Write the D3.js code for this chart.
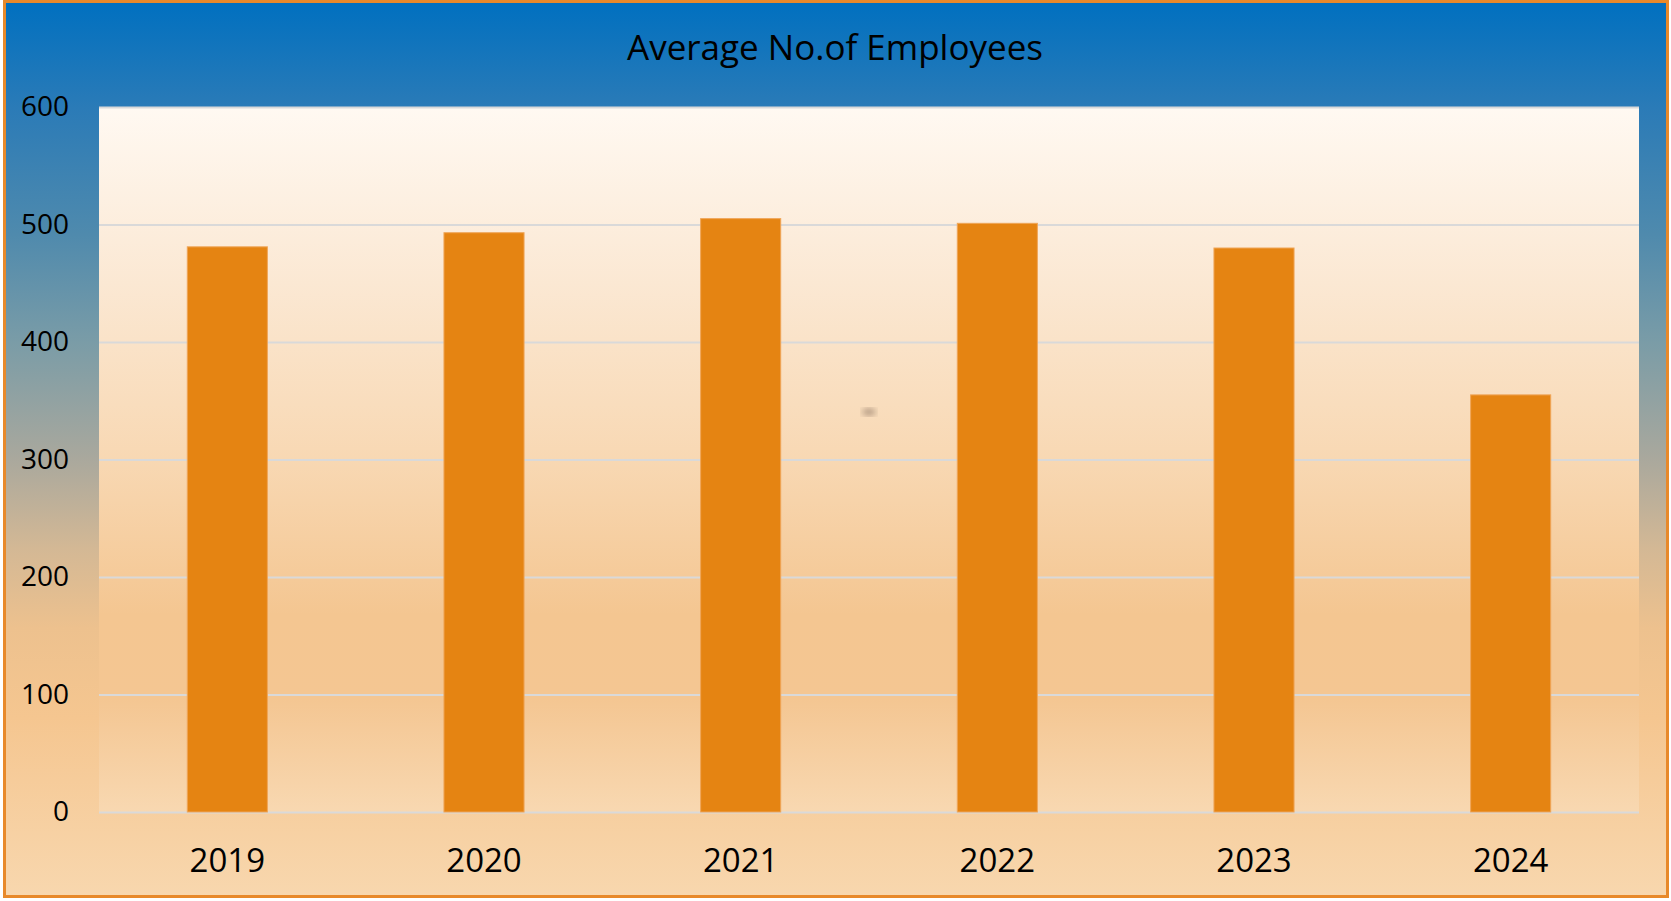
<!DOCTYPE html>
<html>
<head>
<meta charset="utf-8">
<script src="https://cdn.jsdelivr.net/npm/d3@7"></script>
<style>
  body { margin: 0; background: #fff; }
  text { font-family: "Open Sans", "Noto Sans", sans-serif; fill: #000; }
</style>
</head>
<body>
<div id="chart"></div>
<script>
// data
var years = ["2019", "2020", "2021", "2022", "2023", "2024"];
var employees = [481, 493, 505, 501, 480, 355];
var yTicks = [0, 100, 200, 300, 400, 500, 600];
var title = "Average No.of Employees";

//size of the page and the plot area
var w = 1671;
var h = 901;
var plot = { left: 99, top: 107, right: 1639, bottom: 812 };

var svg = d3.select("#chart")
            .append("svg")
            .attr("width", w)
            .attr("height", h);

var defs = svg.append("defs");

//outer background: blue on top fading to orange
var outerGrad = defs.append("linearGradient")
    .attr("id", "outerGrad")
    .attr("x1", 0).attr("y1", 0).attr("x2", 0).attr("y2", 1);
[
    [0, "#0070C0"], [0.12, "#2B7BB7"], [0.26, "#4F8AAD"], [0.38, "#7A9CA7"],
    [0.51, "#A9A89D"], [0.61, "#D3B895"], [0.7, "#EDC18E"], [0.8, "#F5C690"],
    [1, "#F8D7AE"]
].forEach(function(s) {
    outerGrad.append("stop").attr("offset", s[0]).attr("stop-color", s[1]);
});

//plot area: near white on top, orange lower down
var plotGrad = defs.append("linearGradient")
    .attr("id", "plotGrad")
    .attr("x1", 0).attr("y1", 0).attr("x2", 0).attr("y2", 1);
[
    [0, "#FFF9F2"], [0.25, "#FBE8D3"], [0.5, "#F8D8B3"], [0.72, "#F4C691"],
    [0.84, "#F4C692"], [1, "#F8D8B1"]
].forEach(function(s) {
    plotGrad.append("stop").attr("offset", s[0]).attr("stop-color", s[1]);
});

defs.append("filter").attr("id", "blur")
    .append("feGaussianBlur").attr("stdDeviation", 3);

svg.append("rect")
    .attr("x", 4.5).attr("y", 1.5)
    .attr("width", 1663).attr("height", 895)
    .style("fill", "url(#outerGrad)")
    .style("stroke", "#E8892A")
    .style("stroke-width", 3);

svg.append("rect")
    .attr("x", plot.left).attr("y", plot.top)
    .attr("width", plot.right - plot.left)
    .attr("height", plot.bottom - plot.top)
    .style("fill", "url(#plotGrad)");

//scales
var xScale = d3.scaleBand()
    .domain(years)
    .range([plot.left, plot.right])
    .paddingInner(0.688)
    .paddingOuter(0.344);

var yScale = d3.scaleLinear()
    .domain([0, 600])
    .range([plot.bottom, plot.top]);

//gridlines
var grid = svg.append("g")
    .attr("transform", "translate(" + plot.left + ",0)")
    .call(d3.axisLeft(yScale).tickValues(yTicks)
        .tickSize(-(plot.right - plot.left)).tickFormat(""));
grid.select(".domain").remove();
grid.selectAll("line").style("stroke", "#D9D9D9").style("stroke-width", 2);

//little smudge in the middle of the plot
svg.append("ellipse")
    .attr("cx", 869).attr("cy", 412)
    .attr("rx", 7).attr("ry", 3.5)
    .style("fill", "#9C8470")
    .style("opacity", 0.8)
    .attr("filter", "url(#blur)");

//bars
svg.selectAll("rect.bar")
    .data(employees)
    .enter()
    .append("rect")
    .attr("class", "bar")
    .attr("x", function(d, i) { return xScale(years[i]); })
    .attr("y", function(d) { return yScale(d); })
    .attr("width", xScale.bandwidth())
    .attr("height", function(d) { return yScale(0) - yScale(d); })
    .style("fill", "#E58412")
    .style("stroke", "#EFA558")
    .style("stroke-width", 1);

//y axis labels
var yAxis = svg.append("g")
    .attr("transform", "translate(69,0)")
    .call(d3.axisLeft(yScale).tickValues(yTicks).tickSize(0).tickPadding(0));
yAxis.select(".domain").remove();
yAxis.selectAll("text")
    .style("font-size", "28px")
    .style("font-family", "'Open Sans', sans-serif")
    .attr("fill", "#000");

//x axis labels
var xAxis = svg.append("g")
    .attr("transform", "translate(0," + plot.bottom + ")")
    .call(d3.axisBottom(xScale).tickSize(0).tickPadding(0));
xAxis.select(".domain").remove();
xAxis.selectAll("text")
    .attr("dy", null)
    .attr("y", 60)
    .style("font-size", "33px")
    .style("font-family", "'Open Sans', sans-serif")
    .attr("fill", "#000");

//title
svg.append("text")
    .attr("x", 835)
    .attr("y", 60)
    .attr("text-anchor", "middle")
    .style("font-size", "35px")
    .text(title);
</script>
</body>
</html>
